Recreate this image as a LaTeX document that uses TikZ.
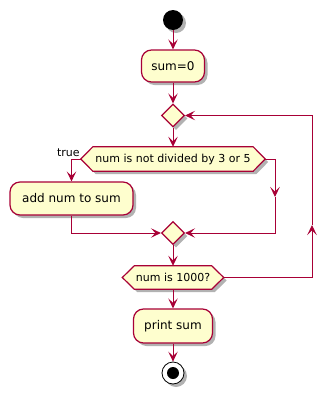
\documentclass[tikz,border=0pt]{standalone}
\usepackage{fontspec}
\setmainfont{DejaVu Sans}
\usetikzlibrary{arrows.meta,shapes.geometric,shadows}
\definecolor{umlfill}{HTML}{FEFECE}
\definecolor{umlline}{HTML}{A80036}
\pgfdeclarelayer{bg}
\pgfsetlayers{bg,main}
\begin{document}
\begin{tikzpicture}[x=1pt,y=-1pt,
  shade/.style={drop shadow={shadow xshift=3pt,shadow yshift=-3pt,opacity=0.3,fill=black}},
  actbox/.style={draw=umlline,fill=umlfill,line width=1.2pt,rounded corners=10pt,
    inner sep=0pt,font=\fontsize{12}{14}\selectfont,shade},
  merge/.style={diamond,draw=umlline,fill=umlfill,line width=1.2pt,
    minimum width=23pt,minimum height=23pt,inner sep=0pt,shade},
  cond/.style={rectangle,inner sep=0pt,font=\fontsize{11}{13}\selectfont},
  hexline/.style={draw=umlline,fill=umlfill,line width=1.2pt,line join=miter,shade},
  flow/.style={draw=umlline,line width=1pt,-{Stealth[length=10pt,width=9.5pt,inset=4.5pt]}},
  lbl/.style={font=\fontsize{11}{13}\selectfont,inner sep=0pt}]
\useasboundingbox (0,0) rectangle (327,394);

% start / end markers
\node[circle,fill=black,minimum size=20pt,inner sep=0pt,shade] (start) at (173,20) {};
\node[circle,draw=black,fill=white,line width=0.8pt,minimum size=22pt,inner sep=0pt,shade] (end) at (173,373) {};
\fill[black] (end.center) circle (6pt);

% actions and decisions
\node[actbox,minimum width=63pt,minimum height=32pt] (sum) at (173,66) {sum=0};
\node[merge] (d1) at (173,115.5) {};
\node[cond,minimum width=184pt,minimum height=24pt] (h1) at (173,159) {num is not divided by 3 or 5};
\node[lbl,anchor=base east] (tl) at ([xshift=-1pt,yshift=2.5pt]h1.west) {true};
\node[actbox,minimum width=123pt,minimum height=33pt] (add) at (71.5,198.5) {add num to sum};
\node[merge] (d2) at (173,233) {};
\node[cond,minimum width=101pt,minimum height=23pt] (h2) at (173,277.5) {num is 1000?};
\node[actbox,minimum width=79pt,minimum height=34pt] (print) at (173,326) {print sum};

% hexagon outlines behind the decision texts
\begin{pgfonlayer}{bg}
  \foreach \h in {h1,h2} {
    \path[hexline] (\h.west) -- ([xshift=12pt]\h.north west) -- ([xshift=-12pt]\h.north east)
      -- (\h.east) -- ([xshift=-12pt]\h.south east) -- ([xshift=12pt]\h.south west) -- cycle;
  }
\end{pgfonlayer}

\coordinate (rb) at (275,197);
\coordinate (lp) at (312,225);

% connectors
\draw[flow] (start) -- (sum);
\draw[flow] (sum) -- (d1);
\draw[flow] (d1) -- (h1);
\draw[flow] (h1.west) -| (add);
\draw[flow] (add) |- (d2);
\draw[flow] (h1.east) -| (rb);
\draw[flow] (rb) |- (d2);
\draw[flow] (d2) -- (h2);
\draw[flow] (h2) -- (print);
\draw[flow] (print) -- (end);
\draw[flow] (h2.east) -| (lp);
\draw[flow] (lp) |- (d1);
\end{tikzpicture}
\end{document}
